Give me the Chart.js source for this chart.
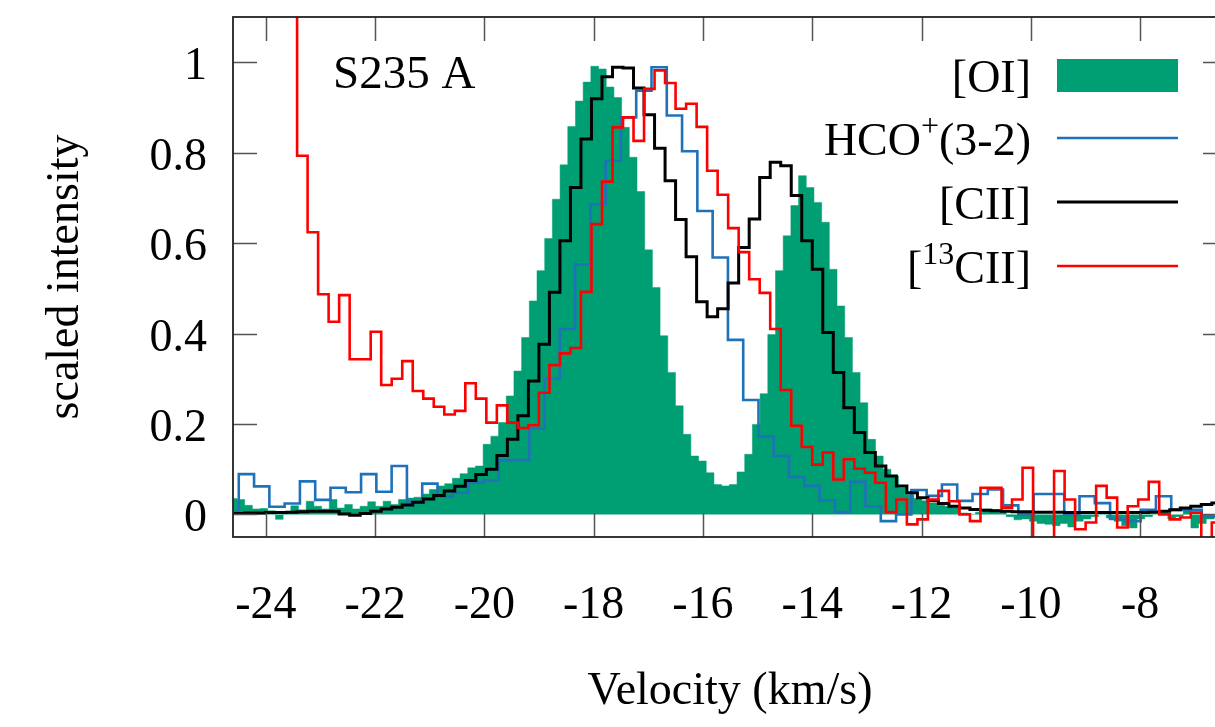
<!DOCTYPE html>
<html>
<head>
<meta charset="utf-8">
<title>S235 A line profiles</title>
<script src="https://cdn.jsdelivr.net/npm/chart.js@4.4.1/dist/chart.umd.min.js"></script>
<style>
    html, body { margin: 0; padding: 0; background: #fff; overflow: hidden; }
    #wrap { width: 1250px; height: 727px; }
</style>
</head>
<body>
<div id="wrap"><canvas id="spectra" width="1250" height="727"></canvas></div>
<script>
/* ================= AXES ================= */
const X_MIN = -24.6, X_MAX = -6.41;
const Y_MIN = -0.05, Y_MAX = 1.1;
const xTicks = [-24, -22, -20, -18, -16, -14, -12, -10, -8];
const yTicks = [0, 0.2, 0.4, 0.6, 0.8, 1];

/* ================= CHANNEL GRIDS (lower edge of first channel, width in km/s) ================= */
const oiStart = -24.668, oiWidth = 0.14078;
const hcoStart = -24.774, hcoWidth = 0.27973;
const ciiStart = -24.774, ciiWidth = 0.19240;   // [CII] and [13CII] come from the same spectrum

/* ================= SPECTRA (scaled intensity per channel) ================= */
const oiValues = [
    0.035, 0.033, 0.020, 0.012, 0.013, 0.008, -0.011, 0.006, 0.019, 0.010,
    0.029, 0.018, 0.012, 0.033, 0.014, 0.022, 0.012, 0.018, 0.028, 0.018,
    0.029, 0.022, 0.033, 0.036, 0.038, 0.045, 0.055, 0.063, 0.068, 0.080,
    0.090, 0.103, 0.107,
    0.155, 0.173, 0.203, 0.262, 0.317, 0.391, 0.472, 0.539, 0.610, 0.697,
    0.773, 0.858, 0.914, 0.956, 0.991, 0.985, 0.945, 0.922, 0.856, 0.790,
    0.714, 0.585, 0.502, 0.395, 0.314, 0.240, 0.177, 0.129, 0.118, 0.092,
    0.066, 0.063, 0.066, 0.094, 0.133, 0.199, 0.267, 0.398, 0.539, 0.616,
    0.683, 0.749, 0.723, 0.690, 0.646, 0.542, 0.461, 0.391, 0.314, 0.247,
    0.166, 0.129, 0.100, 0.085, 0.059, 0.044, 0.035, 0.030, 0.025, 0.020,
    0.018, 0.015, 0.003, 0.000, 0.005, 0.012, 0.010, 0.008, -0.005, -0.012,
    -0.010, -0.015, -0.020, -0.022, -0.025, -0.020, -0.028, -0.015, -0.010, -0.005,
    0.000, -0.008, -0.015, -0.025, -0.030, -0.010, -0.005, 0.000, 0.005, -0.010,
    -0.005, 0.010, -0.030, -0.020, -0.010, 0.000, 0.005, 0.000
];

const hcoValues = [
    0.005, 0.089, 0.062, 0.017, 0.024, 0.073, 0.032, 0.059, 0.049, 0.089,
    0.050, 0.107, 0.028, 0.068, 0.039, 0.048, 0.070, 0.075, 0.120, 0.120,
    0.190, 0.300, 0.410, 0.553, 0.686, 0.782, 0.878, 0.937, 0.989, 0.882,
    0.803, 0.671, 0.568, 0.386, 0.253, 0.172, 0.129, 0.083, 0.063, 0.031,
    0.005, 0.072, 0.018, -0.015, 0.000, 0.054, 0.041, 0.066, 0.030, 0.045,
    0.055, 0.020, 0.000, 0.045, 0.045, 0.000, 0.040, 0.025, -0.010, -0.015,
    0.010, 0.040, 0.010, 0.010, -0.005, 0.000, 0.000
];

const ciiValues = [
    0.002, 0.002, 0.003, 0.003, 0.004, 0.004, 0.005, 0.006, 0.007, 0.007,
    0.007, 0.001, -0.002, 0.002, 0.007, 0.012, 0.016, 0.021, 0.027, 0.034,
    0.042, 0.052, 0.062, 0.075, 0.088, 0.100, 0.130, 0.166, 0.218, 0.295,
    0.376, 0.491, 0.605, 0.723, 0.830, 0.919, 0.968, 0.989, 0.987, 0.943,
    0.884, 0.810, 0.738, 0.652, 0.570, 0.470, 0.437, 0.455, 0.512, 0.590,
    0.653, 0.745, 0.779, 0.771, 0.705, 0.605, 0.542, 0.402, 0.314, 0.236,
    0.181, 0.137, 0.107, 0.085, 0.063, 0.048, 0.037, 0.030, 0.024, 0.018,
    0.014, 0.011, 0.009, 0.008, 0.007, 0.006, 0.006, 0.005, 0.005, 0.005,
    0.004, 0.004, 0.004, 0.004, 0.004, 0.004, 0.004, 0.004, 0.005, 0.007,
    0.010, 0.014, 0.018, 0.022, 0.025, 0.028
];

const c13Values = [
    1.60, 1.60, 1.50, 1.40, 1.35, 1.30, 1.20, 0.793, 0.624, 0.487,
    0.426, 0.485, 0.343, 0.343, 0.404, 0.286, 0.300, 0.339, 0.273, 0.256,
    0.238, 0.221, 0.229, 0.290, 0.256, 0.203, 0.241, 0.203, 0.191, 0.197,
    0.269, 0.330, 0.356, 0.368, 0.492, 0.642, 0.736, 0.856, 0.878, 0.826,
    0.941, 0.982, 0.954, 0.897, 0.908, 0.857, 0.760, 0.707, 0.633, 0.580,
    0.520, 0.490, 0.410, 0.275, 0.196, 0.149, 0.110, 0.137, 0.077, 0.122,
    0.101, 0.092, 0.070, 0.005, 0.033, -0.022, -0.011, 0.033, 0.052, 0.029,
    0.000, -0.015, 0.059, 0.059, 0.015, 0.033, 0.103, -0.080, -0.080, 0.096,
    0.033, -0.033, -0.018, 0.063, 0.037, -0.029, 0.018, 0.033, 0.072, 0.000,
    -0.011, -0.007, 0.004, -0.080, -0.018, 0.000
];

const sourceName = "S235 A";
const seriesLabels = [
    [["[OI]", false]],
    [["HCO", false], ["+", true], ["(3-2)", false]],
    [["[CII]", false]],
    [["[", false], ["13", true], ["CII]", false]]
];

/* ================= HELPERS ================= */
const FONT = "'Liberation Serif', 'Times New Roman', serif";
Chart.defaults.font.family = FONT;
Chart.defaults.color = "#000";

// one point per channel centre, drawn as a step that changes at the channel edges
function toPoints(start, width, values) {
    return values.map((v, i) => ({ x: start + (i + 0.5) * width, y: v }));
}

// keep Chart.js from reserving room for overhanging tick labels
function noLabelPadding(s) {
    s.paddingTop = 0;
    s.paddingBottom = 0;
    s.paddingLeft = 0;
    s.paddingRight = 0;
}

/* ================= FRAME + INWARD TICKS ================= */
const TICK = 24;
const framePlugin = {
    id: "frame",
    afterDatasetsDraw(chart) {
        const { ctx, chartArea: a, scales: { x, y } } = chart;
        ctx.save();
        ctx.strokeStyle = "#555";
        ctx.lineWidth = 1.5;
        ctx.beginPath();
        xTicks.forEach(v => {
            const px = Math.round(x.getPixelForValue(v)) + 0.5;
            ctx.moveTo(px, a.bottom); ctx.lineTo(px, a.bottom - TICK);
            ctx.moveTo(px, a.top); ctx.lineTo(px, a.top + TICK);
        });
        yTicks.forEach(v => {
            const py = Math.round(y.getPixelForValue(v)) + 0.5;
            ctx.moveTo(a.left, py); ctx.lineTo(a.left + TICK, py);
            ctx.moveTo(a.right, py); ctx.lineTo(a.right - TICK, py);
        });
        ctx.stroke();

        ctx.strokeStyle = "#222";
        ctx.lineWidth = 1.8;
        ctx.strokeRect(a.left, a.top, a.right - a.left, a.bottom - a.top);
        ctx.restore();
    }
};

/* ================= KEY + SOURCE LABEL ================= */
const keyPlugin = {
    id: "key",
    afterDraw(chart) {
        const ctx = chart.ctx;
        const textRight = 1031, sampleLeft = 1057, sampleRight = 1178;
        const rowY = [75, 138, 202, 266];

        ctx.save();
        ctx.fillStyle = "#000";
        ctx.textBaseline = "alphabetic";

        ctx.font = "47px " + FONT;
        ctx.textAlign = "left";
        ctx.fillText(sourceName, 333, 88);

        seriesLabels.forEach((parts, i) => {
            const ds = chart.data.datasets[i];
            const base = rowY[i] + 17;

            // measure, then lay the pieces out so the line ends at textRight
            const pieces = parts.map(([t, sup]) => {
                ctx.font = (sup ? "32px " : "46px ") + FONT;
                return { t, sup, w: ctx.measureText(t).width };
            });
            let cx = textRight - pieces.reduce((s, p) => s + p.w, 0);
            pieces.forEach(p => {
                ctx.font = (p.sup ? "32px " : "46px ") + FONT;
                ctx.fillText(p.t, cx, p.sup ? base - 19 : base);
                cx += p.w;
            });

            if (ds.fill) {
                ctx.fillStyle = ds.backgroundColor;
                ctx.fillRect(sampleLeft, rowY[i] - 16, sampleRight - sampleLeft, 33);
                ctx.fillStyle = "#000";
            } else {
                ctx.strokeStyle = ds.borderColor;
                ctx.lineWidth = ds.borderWidth;
                ctx.beginPath();
                ctx.moveTo(sampleLeft, rowY[i]);
                ctx.lineTo(sampleRight, rowY[i]);
                ctx.stroke();
            }
        });
        ctx.restore();
    }
};

/* ================= CHART ================= */
const stepLine = { type: "line", stepped: "middle", pointRadius: 0, tension: 0, fill: false };

new Chart(document.getElementById("spectra"), {
    type: "line",
    data: {
        datasets: [
            {
                ...stepLine,
                label: "[OI]",
                data: toPoints(oiStart, oiWidth, oiValues),
                fill: "origin",
                backgroundColor: "#009e73",
                borderColor: "#009e73",
                borderWidth: 0.5,
                order: 4
            },
            {
                ...stepLine,
                label: "HCO+(3-2)",
                data: toPoints(hcoStart, hcoWidth, hcoValues),
                borderColor: "#1f72b8",
                borderWidth: 2.6,
                order: 3
            },
            {
                ...stepLine,
                label: "[CII]",
                data: toPoints(ciiStart, ciiWidth, ciiValues),
                borderColor: "#000",
                borderWidth: 3,
                order: 2
            },
            {
                ...stepLine,
                label: "[13CII]",
                data: toPoints(ciiStart, ciiWidth, c13Values),
                borderColor: "#ff0000",
                borderWidth: 2.6,
                order: 1
            }
        ]
    },
    options: {
        responsive: false,
        animation: false,
        events: [],
        layout: { padding: { top: 17, right: 23, left: 0, bottom: 0 } },
        plugins: { legend: { display: false }, tooltip: { enabled: false } },
        scales: {
            x: {
                type: "linear",
                min: X_MIN,
                max: X_MAX,
                grid: { display: false, drawTicks: false },
                border: { display: false },
                afterBuildTicks: s => { s.ticks = xTicks.map(v => ({ value: v })); },
                afterFit: s => { s.height = 190; noLabelPadding(s); },
                ticks: { padding: 41, font: { size: 46 }, color: "#000", callback: v => String(v) },
                title: {
                    display: true,
                    text: "Velocity (km/s)",
                    font: { size: 46 },
                    color: "#000",
                    padding: { top: 0, bottom: 7 }
                }
            },
            y: {
                min: Y_MIN,
                max: Y_MAX,
                grid: { display: false, drawTicks: false },
                border: { display: false },
                afterBuildTicks: s => { s.ticks = yTicks.map(v => ({ value: v })); },
                afterFit: s => { s.width = 233; noLabelPadding(s); },
                ticks: { padding: 26, labelOffset: 5, font: { size: 46 }, color: "#000", callback: v => String(v) },
                title: {
                    display: true,
                    text: "scaled intensity",
                    font: { size: 46 },
                    color: "#000",
                    padding: { top: 38, bottom: 0 }
                }
            }
        }
    },
    plugins: [framePlugin, keyPlugin]
});
</script>
</body>
</html>
